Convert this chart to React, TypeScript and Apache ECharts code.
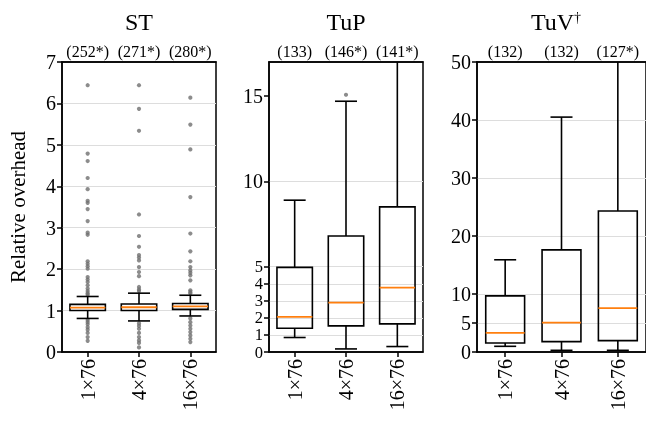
import React, { useEffect, useRef } from 'react';
import * as echarts from 'echarts';

const categories = ['1×76', '4×76', '16×76'];
const stCounts = ['(252*)', '(271*)', '(280*)'];
const tupCounts = ['(133)', '(146*)', '(141*)'];
const tuvCounts = ['(132)', '(132)', '(127*)'];

// [lower whisker, q1, median, q3, upper whisker]
const stBoxes = [
  [0.81, 1.0, 1.07, 1.15, 1.34],
  [0.75, 1.0, 1.08, 1.16, 1.42],
  [0.87, 1.03, 1.1, 1.17, 1.37],
];
const tupBoxes = [
  [0.85, 1.39, 2.06, 4.96, 8.9],
  [0.18, 1.53, 2.9, 6.8, 14.7],
  [0.32, 1.65, 3.77, 8.51, 19.5],
];
const tuvBoxes = [
  [0.98, 1.56, 3.29, 9.68, 15.9],
  [0.29, 1.79, 5.07, 17.6, 40.5],
  [0.29, 1.96, 7.55, 24.3, 60],
];

const stOutliers1 = [6.44, 4.79, 4.61, 4.2, 3.93, 3.65, 3.6, 3.45, 3.16, 2.88, 2.83, 2.19, 2.13, 2.07, 2.01, 1.81, 1.75, 1.69, 1.61, 1.53, 1.47, 1.42, 1.38, 0.77, 0.72, 0.67, 0.6, 0.54, 0.46, 0.36, 0.27];
const stOutliers2 = [6.44, 5.87, 5.34, 3.32, 2.8, 2.54, 2.34, 2.28, 2.21, 2.05, 1.93, 1.83, 1.57, 1.51, 1.47, 0.69, 0.63, 0.56, 0.46, 0.36, 0.28, 0.22, 0.11];
const stOutliers3 = [6.14, 5.49, 4.89, 3.74, 2.86, 2.43, 2.19, 2.05, 1.97, 1.91, 1.85, 1.73, 1.49, 1.45, 1.42, 0.81, 0.72, 0.64, 0.56, 0.48, 0.4, 0.32, 0.24];
const tupOutliers2 = [15.08];

const stTicks = [0, 1, 2, 3, 4, 5, 6, 7];
const tupTicks = [0, 1, 2, 3, 4, 5, 10, 15];
const tuvTicks = [0, 5, 10, 20, 30, 40, 50];

const FONT = "'Liberation Serif', 'DejaVu Serif', serif";

function renderBox(params: any, api: any) {
  const idx = api.value(0);
  const lo = api.coord([idx, api.value(1)]);
  const q1 = api.coord([idx, api.value(2)]);
  const med = api.coord([idx, api.value(3)]);
  const q3 = api.coord([idx, api.value(4)]);
  const hi = api.coord([idx, api.value(5)]);
  const band = api.size([1, 0])[0];
  const bw = band * 0.69;
  const cw = 22;
  const x = lo[0];
  const st = { stroke: '#000', lineWidth: 1.6, fill: 'none' };
  return {
    type: 'group',
    children: [
      { type: 'line', shape: { x1: x, y1: lo[1], x2: x, y2: q1[1] }, style: st },
      { type: 'line', shape: { x1: x, y1: q3[1], x2: x, y2: hi[1] }, style: st },
      { type: 'line', shape: { x1: x - cw / 2, y1: lo[1], x2: x + cw / 2, y2: lo[1] }, style: st },
      { type: 'line', shape: { x1: x - cw / 2, y1: hi[1], x2: x + cw / 2, y2: hi[1] }, style: st },
      { type: 'rect', shape: { x: x - bw / 2, y: q3[1], width: bw, height: q1[1] - q3[1] }, style: st },
      { type: 'line', shape: { x1: x - bw / 2, y1: med[1], x2: x + bw / 2, y2: med[1] }, style: { stroke: '#ff7f0e', lineWidth: 1.8 } },
    ],
  };
}

export default function App() {
  const ref = useRef<HTMLDivElement>(null);
  useEffect(() => {
    if (!ref.current) return;
    const chart = echarts.init(ref.current, null, { renderer: 'svg' });
    const grids = [
      { left: 62, top: 62, width: 154, height: 290 },
      { left: 269, top: 62, width: 154, height: 290 },
      { left: 477, top: 62, width: 171, height: 290 },
    ];
    const counts = [stCounts, tupCounts, tuvCounts];
    const boxes = [stBoxes, tupBoxes, tuvBoxes];
    const outliers = [[stOutliers1, stOutliers2, stOutliers3], [[], tupOutliers2, []], [[], [], []]];
    const ticks = [stTicks, tupTicks, tuvTicks];
    const maxes = [7, 17, 50];

    const xAxis: any[] = [];
    const yAxis: any[] = [];
    const series: any[] = [];
    grids.forEach((g, i) => {
      xAxis.push({
        type: 'category', gridIndex: i, data: categories, boundaryGap: true,
        axisLine: { show: true, lineStyle: { color: '#000', width: 1.5 } },
        axisTick: { show: true, alignWithLabel: true, length: 5, lineStyle: { color: '#000', width: 1.5 } },
        axisLabel: { interval: 0, rotate: 90, fontFamily: FONT, fontSize: 20, color: '#000', margin: 7 },
        splitLine: { show: false },
      });
      xAxis.push({
        type: 'category', gridIndex: i, position: 'top', data: counts[i], boundaryGap: true,
        axisLine: { show: true, lineStyle: { color: '#000', width: 1.5 } },
        axisTick: { show: false },
        axisLabel: { interval: 0, fontFamily: FONT, fontSize: 16, color: '#000', margin: 3 },
        splitLine: { show: false },
      });
      const dense = i === 1;
      yAxis.push({
        type: 'value', gridIndex: i, min: 0, max: maxes[i],
        name: i === 0 ? 'Relative overhead' : '',
        nameLocation: 'middle', nameGap: 34,
        nameTextStyle: { fontFamily: FONT, fontSize: 21, color: '#000' },
        axisLine: { show: true, lineStyle: { color: '#000', width: 1.5 } },
        axisTick: { show: true, length: 5, customValues: ticks[i], lineStyle: { color: '#000', width: 1.5 } },
        axisLabel: {
          customValues: ticks[i], showMinLabel: true, showMaxLabel: true, hideOverlap: false,
          fontFamily: FONT, fontSize: dense ? 16.5 : 20, color: '#000', margin: 6,
          formatter: dense ? (v: number) => (v >= 10 ? `{b|${v}}` : `${v}`) : undefined,
          rich: dense ? { b: { fontFamily: FONT, fontSize: 20, color: '#000' } } : undefined,
        },
        splitLine: { show: true, showMinLine: false, showMaxLine: false, lineStyle: { color: '#dddddd', width: 1.2 } },
      });
      series.push({
        type: 'custom', xAxisIndex: i * 2, yAxisIndex: i, clip: true,
        renderItem: renderBox,
        encode: { x: 0, y: [1, 2, 3, 4, 5] },
        data: boxes[i].map((b, k) => [k, ...b]),
        z: 3,
      });
      const pts: number[][] = [];
      outliers[i].forEach((arr, k) => arr.forEach((v) => pts.push([k, v])));
      series.push({
        type: 'scatter', xAxisIndex: i * 2, yAxisIndex: i,
        symbolSize: 4.2,
        itemStyle: { color: '#6f6f6f', opacity: 0.8 },
        data: pts,
        z: 2,
      });
    });

    const titleStyle = { font: `24px ${FONT}`, fill: '#000', textAlign: 'center', textVerticalAlign: 'middle' };
    chart.setOption({
      animation: false,
      grid: grids.map((g) => ({ ...g, show: true, borderColor: '#000', borderWidth: 1.5, backgroundColor: 'transparent' })),
      xAxis, yAxis, series,
      graphic: [
        { type: 'text', x: 139, y: 22, style: { ...titleStyle, text: 'ST' } },
        { type: 'text', x: 346, y: 22, style: { ...titleStyle, text: 'TuP' } },
        {
          type: 'text', x: 556, y: 22,
          style: {
            ...titleStyle,
            text: '{m|TuV}{s|†}',
            rich: {
              m: { fontFamily: FONT, fontSize: 24, color: '#000' },
              s: { fontFamily: FONT, fontSize: 14, color: '#000', verticalAlign: 'top' },
            },
          },
        },
      ],
    });
    return () => chart.dispose();
  }, []);
  return <div ref={ref} style={{ position: 'fixed', left: 0, top: 0, width: 646, height: 424 }} />;
}
